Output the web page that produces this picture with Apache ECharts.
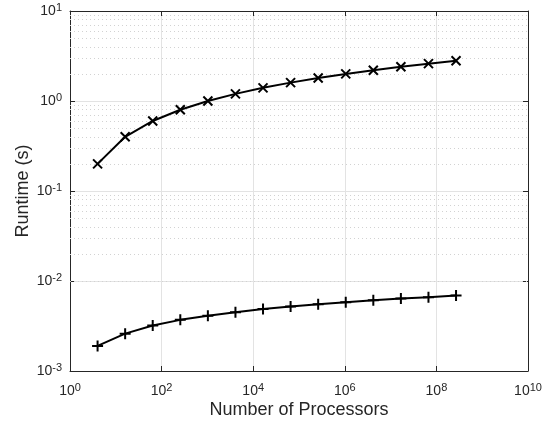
<!DOCTYPE html>
<html>
<head>
<meta charset="utf-8">
<script src="https://cdn.jsdelivr.net/npm/echarts@6/dist/echarts.min.js"></script>
<style>
  html, body { margin: 0; padding: 0; background: #fff; }
  #chart { width: 554px; height: 423px; }
</style>
</head>
<body>
<div id="chart"></div>
<script>
// number of processors (x) and measured runtimes (s)
const processors = [4, 16, 64, 256, 1024, 4096, 16384, 65536, 262144, 1048576, 4194304, 16777216, 67108864, 268435456]
const runtimeSlow = [0.2, 0.4, 0.6, 0.8, 1.0, 1.2, 1.4, 1.6, 1.8, 2.0, 2.2, 2.4, 2.6, 2.8]
const runtimeFast = [0.0019, 0.0026, 0.0032, 0.0037, 0.0041, 0.0045, 0.0049, 0.0052, 0.0055, 0.0058, 0.0061, 0.0064, 0.0066, 0.0069]

const xMin = 1, xMax = 1e10
const yMin = 1e-3, yMax = 10

const font = 'Liberation Sans, Arial, Helvetica, sans-serif'
const textColor = '#262626'
const axisColor = '#262626'

// log-spaced minor grid values (2..9 x 10^k) for the y axis
const minorY = []
for (let k = -3; k < 1; k++) {
  for (let m = 2; m <= 9; m++) minorY.push(+(m * Math.pow(10, k)).toPrecision(3))
}

function powLabel(v) {
  const e = Math.round(Math.log10(v))
  return '10{sup|' + e + '}'
}

const richLabel = {
  sup: { fontSize: 11, padding: [0, 0, 7, 0], color: textColor, fontFamily: font }
}

const chart = echarts.init(document.getElementById('chart'), null, { renderer: 'canvas' })

const crossSymbol = 'path://M0,0L10,10M10,0L0,10'
const plusSymbol = 'path://M5,0L5,10M0,5L10,5'

chart.setOption({
  animation: false,
  backgroundColor: '#fff',
  textStyle: { fontFamily: font },
  grid: { left: 70, right: 26, top: 11, bottom: 52, containLabel: false, outerBoundsMode: 'none' },
  xAxis: [
    {
      type: 'log',
      logBase: 10,
      min: xMin,
      max: xMax,
      interval: 2,
      name: 'Number of Processors',
      nameLocation: 'middle',
      nameGap: 30,
      nameMoveOverlap: false,
      nameTextStyle: { fontSize: 18, color: textColor, fontFamily: font },
      axisLine: { show: true, onZero: false, lineStyle: { color: axisColor, width: 1 } },
      axisTick: { show: true, inside: true, length: 5, lineStyle: { color: axisColor } },
      axisLabel: {
        color: textColor, fontSize: 14, fontFamily: font, margin: 11,
        formatter: powLabel, rich: richLabel
      },
      splitLine: { show: true, lineStyle: { color: '#e3e3e3', width: 1 } },
      minorTick: { show: false },
      minorSplitLine: { show: false }
    },
    {
      type: 'log',
      logBase: 10,
      min: xMin,
      max: xMax,
      interval: 2,
      position: 'top',
      axisLine: { show: true, onZero: false, lineStyle: { color: axisColor, width: 1 } },
      axisTick: { show: true, inside: true, length: 5, lineStyle: { color: axisColor } },
      axisLabel: { show: false },
      splitLine: { show: false }
    }
  ],
  yAxis: [
    {
      type: 'log',
      logBase: 10,
      min: yMin,
      max: yMax,
      interval: 1,
      name: 'Runtime (s)',
      nameLocation: 'middle',
      nameGap: 38,
      nameMoveOverlap: false,
      nameTextStyle: { fontSize: 18, color: textColor, fontFamily: font },
      axisLine: { show: true, onZero: false, lineStyle: { color: axisColor, width: 1 } },
      axisTick: { show: true, inside: true, length: 5, lineStyle: { color: axisColor } },
      axisLabel: {
        color: textColor, fontSize: 14, fontFamily: font, margin: 8,
        formatter: powLabel, rich: richLabel
      },
      splitLine: { show: true, lineStyle: { color: '#e3e3e3', width: 1 } }
    },
    {
      type: 'log',
      logBase: 10,
      min: yMin,
      max: yMax,
      interval: 1,
      position: 'right',
      axisLine: { show: true, onZero: false, lineStyle: { color: axisColor, width: 1 } },
      axisTick: { show: true, inside: true, length: 5, lineStyle: { color: axisColor } },
      axisLabel: { show: false },
      splitLine: { show: false }
    }
  ],
  series: [
    {
      // dotted minor grid lines
      type: 'line',
      data: [],
      silent: true,
      z: 1,
      markLine: {
        silent: true,
        symbol: 'none',
        label: { show: false },
        animation: false,
        lineStyle: { color: '#d2d2d2', type: [1, 3], width: 1 },
        data: minorY.map(v => ({ yAxis: v }))
      }
    },
    {
      // short minor ticks on left and right edges
      type: 'scatter',
      silent: true,
      z: 3,
      symbol: 'path://M0,0L10,0',
      symbolSize: [3, 1],
      itemStyle: { color: 'none', borderColor: axisColor, borderWidth: 1 },
      data: minorY.map(v => ({ value: [xMin, v], symbolOffset: [2, 0] }))
        .concat(minorY.map(v => ({ value: [xMax, v], symbolOffset: [-2, 0] })))
    },
    {
      name: 'slow',
      type: 'line',
      z: 5,
      data: processors.map((p, i) => [p, runtimeSlow[i]]),
      symbol: crossSymbol,
      symbolSize: 9,
      showAllSymbol: true,
      lineStyle: { color: '#000', width: 2 },
      itemStyle: { color: 'none', borderColor: '#000', borderWidth: 2 }
    },
    {
      name: 'fast',
      type: 'line',
      z: 5,
      data: processors.map((p, i) => [p, runtimeFast[i]]),
      symbol: plusSymbol,
      symbolSize: 11,
      showAllSymbol: true,
      lineStyle: { color: '#000', width: 2 },
      itemStyle: { color: 'none', borderColor: '#000', borderWidth: 2 }
    }
  ]
})
</script>
</body>
</html>
